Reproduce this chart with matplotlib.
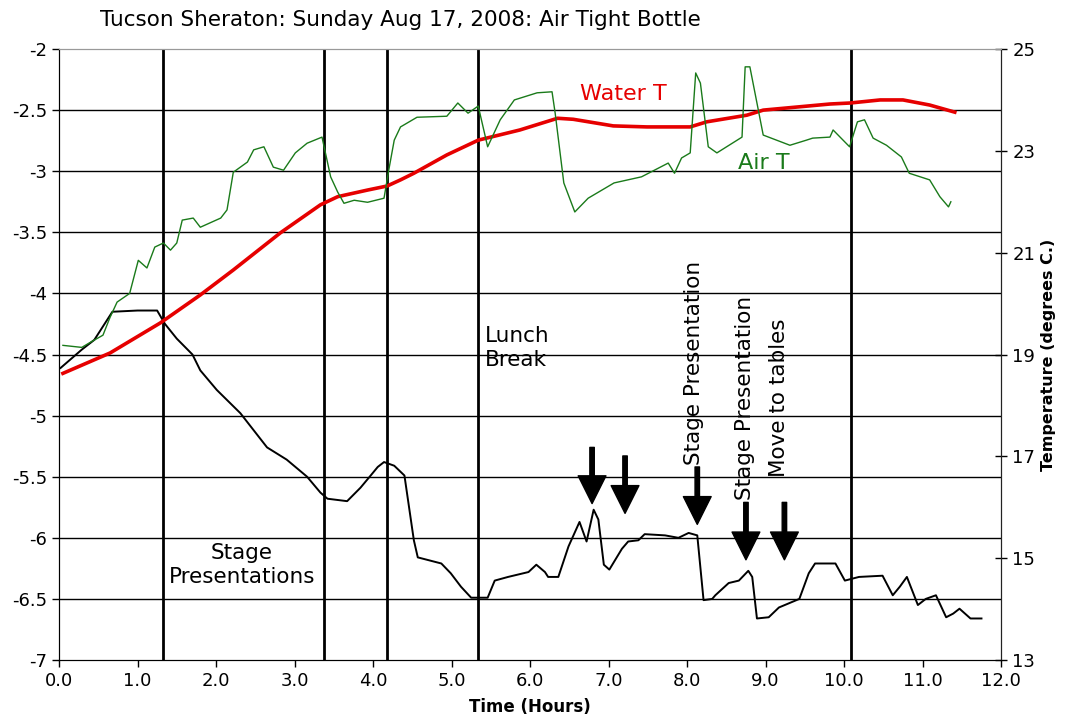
import numpy as np
import matplotlib
matplotlib.use("Agg")
import matplotlib.pyplot as plt

# black step trace (left axis)
t_black = [0.02, 0.29, 0.45, 0.68, 1.0, 1.25, 1.35, 1.5, 1.7, 1.8, 2.01, 2.31, 2.65, 2.9, 3.16,
           3.33, 3.42, 3.67, 3.84, 3.97, 4.06, 4.14, 4.27, 4.4, 4.52, 4.57, 4.87, 4.99, 5.12,
           5.25, 5.46, 5.55, 5.72, 5.98, 6.08, 6.19, 6.23, 6.36, 6.49, 6.63, 6.72, 6.81, 6.87,
           6.94, 7.01, 7.17, 7.25, 7.38, 7.46, 7.72, 7.89, 8.02, 8.13, 8.21, 8.32, 8.36, 8.53,
           8.66, 8.78, 8.83, 8.89, 9.04, 9.17, 9.43, 9.55, 9.63, 9.89, 10.01, 10.19, 10.49,
           10.62, 10.71, 10.8, 10.94, 11.04, 11.17, 11.3, 11.39, 11.47, 11.61, 11.75]
v_black = [-4.61, -4.46, -4.38, -4.15, -4.14, -4.14, -4.25, -4.37, -4.5, -4.63, -4.79, -4.98,
           -5.26, -5.36, -5.5, -5.63, -5.68, -5.7, -5.59, -5.49, -5.42, -5.38, -5.41, -5.49,
           -6.02, -6.16, -6.21, -6.29, -6.4, -6.49, -6.49, -6.35, -6.32, -6.28, -6.22, -6.28,
           -6.32, -6.32, -6.07, -5.87, -6.03, -5.77, -5.85, -6.22, -6.26, -6.09, -6.03, -6.02,
           -5.97, -5.98, -6.0, -5.96, -5.98, -6.51, -6.5, -6.47, -6.37, -6.35, -6.27, -6.32,
           -6.66, -6.65, -6.57, -6.5, -6.29, -6.21, -6.21, -6.35, -6.32, -6.31, -6.47, -6.4,
           -6.32, -6.55, -6.5, -6.47, -6.65, -6.62, -6.58, -6.66, -6.66]

# water temperature (right axis, deg C)
t_water = [0.05, 0.65, 1.29, 1.8, 2.22, 2.82, 3.33, 3.55, 3.93, 4.18, 4.35, 4.52, 4.94, 5.34,
           5.87, 6.35, 6.55, 7.06, 7.49, 8.04, 8.25, 8.76, 8.97, 9.82, 10.08, 10.46, 10.75,
           11.09, 11.41]
v_water = [18.63, 19.03, 19.62, 20.17, 20.66, 21.39, 21.94, 22.1, 22.23, 22.31, 22.43, 22.56,
           22.92, 23.21, 23.41, 23.64, 23.62, 23.49, 23.47, 23.47, 23.57, 23.7, 23.8, 23.92,
           23.94, 24.0, 24.0, 23.9, 23.76]

# air temperature (right axis, deg C)
t_air = [0.05, 0.29, 0.4, 0.56, 0.65, 0.74, 0.9, 1.01, 1.12, 1.22, 1.33, 1.42, 1.5, 1.57, 1.71,
         1.8, 2.06, 2.14, 2.22, 2.4, 2.48, 2.61, 2.73, 2.86, 3.01, 3.16, 3.35, 3.46, 3.55, 3.63,
         3.76, 3.93, 4.14, 4.2, 4.27, 4.35, 4.56, 4.94, 5.08, 5.21, 5.34, 5.46, 5.62, 5.8, 6.09,
         6.28, 6.32, 6.43, 6.57, 6.74, 7.07, 7.42, 7.76, 7.84, 7.93, 8.04, 8.11, 8.17, 8.27,
         8.38, 8.7, 8.74, 8.8, 8.97, 9.31, 9.52, 9.6, 9.82, 9.86, 10.07, 10.17, 10.26, 10.37,
         10.54, 10.73, 10.83, 11.09, 11.22, 11.33, 11.36]
v_air = [19.18, 19.14, 19.24, 19.38, 19.73, 20.03, 20.2, 20.85, 20.7, 21.11, 21.19, 21.05,
         21.19, 21.64, 21.68, 21.5, 21.68, 21.84, 22.58, 22.78, 23.02, 23.08, 22.68, 22.62,
         22.96, 23.15, 23.27, 22.49, 22.19, 21.97, 22.03, 21.99, 22.07, 22.62, 23.21, 23.47,
         23.66, 23.68, 23.94, 23.74, 23.88, 23.08, 23.61, 24.0, 24.14, 24.16, 23.74, 22.37,
         21.8, 22.07, 22.37, 22.49, 22.76, 22.56, 22.86, 22.96, 24.53, 24.33, 23.08, 22.96,
         23.27, 24.65, 24.65, 23.31, 23.11, 23.21, 23.25, 23.27, 23.41, 23.08, 23.57, 23.61,
         23.25, 23.11, 22.88, 22.56, 22.43, 22.1, 21.9, 22.0]

event_times = [1.33, 3.38, 4.18, 5.34, 10.09]
arrow_t = [6.79, 7.21, 8.13, 8.75, 9.24]
arrow_top = [-5.26, -5.33, -5.42, -5.71, -5.71]
arrow_tip = [-5.72, -5.8, -5.89, -6.18, -6.18]

fig = plt.figure(figsize=(10.65, 7.23), dpi=100)
ax = fig.add_axes([0.0554, 0.0871, 0.8846, 0.8451])
ax2 = ax.twinx()

ax.set_xlim(0, 12)
ax.set_ylim(-7, -2)
ax2.set_ylim(13, 25)

for y in np.arange(-6.5, -2.4, 0.5):
    ax.axhline(y, color='black', lw=1.0, zorder=1)
for t in event_times:
    ax.axvline(t, color='black', lw=2.0, zorder=2)

ax.plot(t_black, v_black, color='black', lw=1.4, zorder=4)
ax2.plot(t_water, v_water, color='#e60000', lw=2.6, zorder=3)
ax2.plot(t_air, v_air, color='#1a7a1a', lw=1.0, zorder=3)

for t, y0, y1 in zip(arrow_t, arrow_top, arrow_tip):
    ax.annotate('', xy=(t, y1), xytext=(t, y0),
                arrowprops=dict(facecolor='black', edgecolor='black', width=3.2,
                                headwidth=20, headlength=20, shrink=0), zorder=5)

txt = 15.5
ax.text(2.33, -6.22, 'Stage\nPresentations', ha='center', va='center', fontsize=txt,
        linespacing=1.25)
ax.text(5.43, -4.45, 'Lunch\nBreak', ha='left', va='center', fontsize=txt, linespacing=1.25)
ax.text(8.09, -5.4, 'Stage Presentation', rotation=90, ha='center', va='bottom', fontsize=txt)
ax.text(8.74, -5.69, 'Stage Presentation', rotation=90, ha='center', va='bottom', fontsize=txt)
ax.text(9.17, -5.5, 'Move to tables', rotation=90, ha='center', va='bottom', fontsize=txt)
ax.text(6.64, -2.37, 'Water T', color='#e60000', ha='left', va='center', fontsize=16)
ax.text(8.65, -2.93, 'Air T', color='#1a7a1a', ha='left', va='center', fontsize=16)

ax.set_xticks(np.arange(0, 12.1, 1.0))
ax.set_xticklabels(['%.1f' % v for v in np.arange(0, 12.1, 1.0)])
ax.set_yticks(np.arange(-7, -1.9, 0.5))
ax.set_yticklabels(['%g' % v for v in np.arange(-7, -1.9, 0.5)])
ax2.set_yticks(np.arange(13, 25.1, 2))
ax.tick_params(axis='both', labelsize=13, direction='out', length=5, width=1)
ax2.tick_params(axis='y', labelsize=13, direction='inout', length=9, width=1)

ax.set_xlabel('Time (Hours)', fontsize=12, fontweight='bold', labelpad=6)
ax2.set_ylabel('Temperature (degrees C.)', fontsize=11.5, fontweight='bold', labelpad=4)

ax.spines['top'].set_color('#999999')
ax2.spines['top'].set_color('#999999')
for sp in ['left', 'bottom']:
    ax.spines[sp].set_color('#222222')
ax2.spines['right'].set_color('#222222')

fig.text(0.094, 0.972, 'Tucson Sheraton: Sunday Aug 17, 2008: Air Tight Bottle',
         fontsize=15.5, ha='left', va='center')

fig.savefig('out.png', dpi=100)
